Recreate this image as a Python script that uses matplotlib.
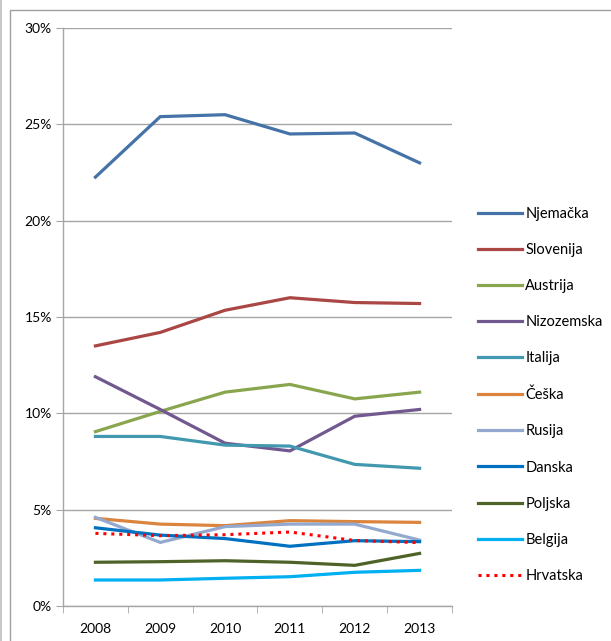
import matplotlib
matplotlib.use("Agg")
import matplotlib.pyplot as plt
from matplotlib.patches import Rectangle
from matplotlib.ticker import FuncFormatter, FixedLocator, MultipleLocator

years = ["2008", "2009", "2010", "2011", "2012", "2013"]
countries = ["Njemačka", "Slovenija", "Austrija", "Nizozemska", "Italija",
             "Češka", "Rusija", "Danska", "Poljska", "Belgija", "Hrvatska"]

njemacka   = [22.26, 25.40, 25.50, 24.50, 24.55, 23.00]
slovenija  = [13.50, 14.20, 15.35, 16.00, 15.75, 15.70]
austrija   = [9.05, 10.10, 11.10, 11.50, 10.75, 11.10]
nizozemska = [11.90, 10.20, 8.45, 8.05, 9.85, 10.20]
italija    = [8.80, 8.80, 8.35, 8.30, 7.35, 7.15]
ceska      = [4.55, 4.25, 4.17, 4.43, 4.38, 4.34]
rusija     = [4.60, 3.30, 4.12, 4.25, 4.25, 3.42]
danska     = [4.06, 3.68, 3.50, 3.10, 3.39, 3.34]
poljska    = [2.27, 2.30, 2.35, 2.27, 2.11, 2.73]
belgija    = [1.35, 1.35, 1.44, 1.52, 1.75, 1.85]
hrvatska   = [3.77, 3.65, 3.70, 3.84, 3.40, 3.29]

series = [njemacka, slovenija, austrija, nizozemska, italija, ceska,
          rusija, danska, poljska, belgija, hrvatska]
colors = ["#4572A7", "#AA4643", "#89A54E", "#71588F", "#4198AF", "#DB843D",
          "#93A9CF", "#0070C0", "#4F6228", "#00B0F0", "#FF0000"]

plt.rcParams['font.family'] = ['Lato', 'DejaVu Sans']

W, H = 611, 641
fig = plt.figure(figsize=(W / 100, H / 100), dpi=100)
fig.patch.set_facecolor("white")

# outer chart frame
fig.patches.append(Rectangle((10 / W, -0.01), 1.1, (H - 10) / H + 0.01,
                             transform=fig.transFigure, fill=False,
                             edgecolor="#A0A0A0", linewidth=1.0))
fig.patches.append(Rectangle((0, 0), 2 / W, 1, transform=fig.transFigure,
                             facecolor="#C8C8C8", edgecolor="none"))

left, right, top, bottom = 63, 452, 28, 606
ax = fig.add_axes([left / W, 1 - bottom / H, (right - left) / W, (bottom - top) / H])

x = list(range(len(years)))
for name, vals, c in zip(countries, series, colors):
    if name == "Hrvatska":
        ax.plot(x, vals, color=c, lw=2.2, linestyle=(0, (1, 1.6)),
                label=name, solid_capstyle="butt", dash_capstyle="butt")
    else:
        ax.plot(x, vals, color=c, lw=2.3, label=name, solid_joinstyle="miter")

ax.set_xlim(-0.5, len(years) - 0.5)
ax.set_ylim(0, 30)
ax.yaxis.set_major_locator(MultipleLocator(5))
ax.yaxis.set_major_formatter(FuncFormatter(lambda v, p: f"{int(round(v))}%"))
ax.grid(axis="y", color="#A6A6A6", lw=1.0)
ax.set_axisbelow(True)

ax.set_xticks(x)
ax.set_xticklabels(years)
ax.xaxis.set_minor_locator(FixedLocator([i - 0.5 for i in range(len(years) + 1)]))
ax.tick_params(axis="x", which="major", length=0, pad=12, labelsize=10)
ax.tick_params(axis="x", which="minor", length=5, color="#A6A6A6", direction="out")
ax.tick_params(axis="y", length=5, color="#A6A6A6", direction="out", pad=3, labelsize=10)

for s in ["top", "right"]:
    ax.spines[s].set_visible(False)
for s in ["left", "bottom"]:
    ax.spines[s].set_color("#A6A6A6")
    ax.spines[s].set_linewidth(1.0)

leg = ax.legend(loc="upper left", bbox_to_anchor=(472 / W, 1 - 201 / H),
                bbox_transform=fig.transFigure, frameon=False,
                handlelength=3.0, handletextpad=0.25, labelspacing=1.52,
                fontsize=10.5, borderaxespad=0)

fig.savefig("out.png", dpi=100, facecolor="white")
